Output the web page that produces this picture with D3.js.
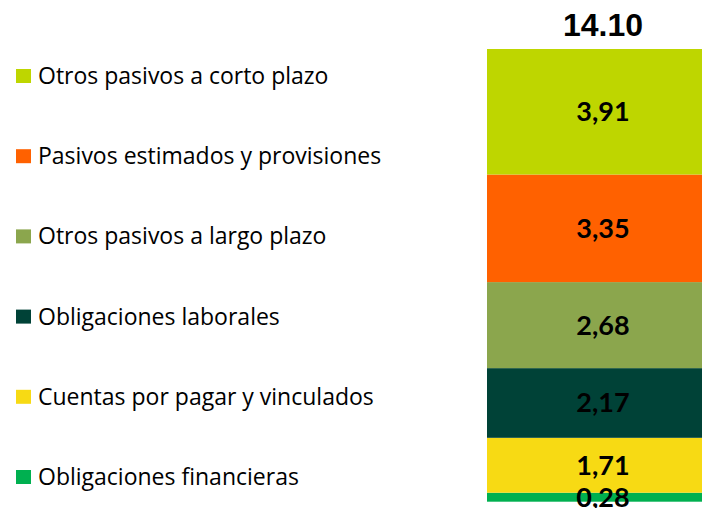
<!DOCTYPE html>
<html lang="es">
<head>
<meta charset="utf-8">
<title>Pasivos</title>
<script src="https://cdn.jsdelivr.net/npm/d3@7"></script>
<style>
  body { margin: 0; background: #fff; }
  svg { display: block; }
</style>
</head>
<body>
<script>
// stacking order, bottom to top
var categories = ["Obligaciones financieras", "Cuentas por pagar y vinculados", "Obligaciones laborales",
                  "Otros pasivos a largo plazo", "Pasivos estimados y provisiones", "Otros pasivos a corto plazo"];
var values = [0.28, 1.71, 2.17, 2.68, 3.35, 3.91];
var colors = ["#00B050", "#F7DA14", "#004237", "#8BA64D", "#FF6100", "#BED600"];

var w = 702, h = 508;
var svg = d3.select("body").append("svg")
    .attr("width", w)
    .attr("height", h);

var row = {};
categories.forEach(function(c, i) { row[c] = values[i]; });
var series = d3.stack().keys(categories)([row]);
var total = d3.sum(values);

var x = d3.scaleBand().domain(["total"]).range([487, 719]);
var y = d3.scaleLinear().domain([0, total]).range([501.7, 49]);
var color = d3.scaleOrdinal().domain(categories).range(colors);
var comma = d3.formatLocale({decimal: ",", thousands: ".", grouping: [3], currency: ["", ""]}).format(".2f");

// bar segments
svg.selectAll("rect.seg")
    .data(series)
    .enter()
    .append("rect")
    .attr("class", "seg")
    .attr("x", x("total"))
    .attr("width", x.bandwidth())
    .attr("y", function(d) { return y(d[0][1]); })
    .attr("height", function(d) { return y(d[0][0]) - y(d[0][1]); })
    .attr("fill", function(d) { return color(d.key); });

// values inside
svg.selectAll("text.val")
    .data(series)
    .enter()
    .append("text")
    .attr("class", "val")
    .attr("x", x("total") + x.bandwidth() / 2)
    .attr("y", function(d) { return (y(d[0][0]) + y(d[0][1])) / 2; })
    .attr("dy", "0.35em")
    .attr("text-anchor", "middle")
    .attr("font-family", "Lato, sans-serif")
    .attr("font-weight", "bold")
    .attr("font-size", "27px")
    .attr("fill", "#000")
    .text(function(d) { return comma(d[0][1] - d[0][0]); });

// total on top
svg.append("text")
    .attr("x", x("total") + x.bandwidth() / 2)
    .attr("y", 36)
    .attr("text-anchor", "middle")
    .attr("font-family", "'Liberation Sans', Arial, sans-serif")
    .attr("font-weight", "bold")
    .attr("font-size", "32px")
    .attr("fill", "#000")
    .text(d3.format(".2f")(total));

// legend, top to bottom
var legendOrder = categories.slice().reverse();
var ly = d3.scalePoint().domain(legendOrder).range([69, 470]);

var item = svg.selectAll("g.leg")
    .data(legendOrder)
    .enter()
    .append("g")
    .attr("class", "leg")
    .attr("transform", function(d) { return "translate(16," + ly(d) + ")"; });

item.append("rect")
    .attr("width", 15)
    .attr("height", 14)
    .attr("fill", function(d) { return color(d); });

item.append("text")
    .attr("x", 22)
    .attr("y", 7)
    .attr("dy", "0.35em")
    .attr("font-family", "'Open Sans', sans-serif")
    .attr("font-size", "23px")
    .attr("fill", "#000")
    .text(function(d) { return d; });
</script>
</body>
</html>
